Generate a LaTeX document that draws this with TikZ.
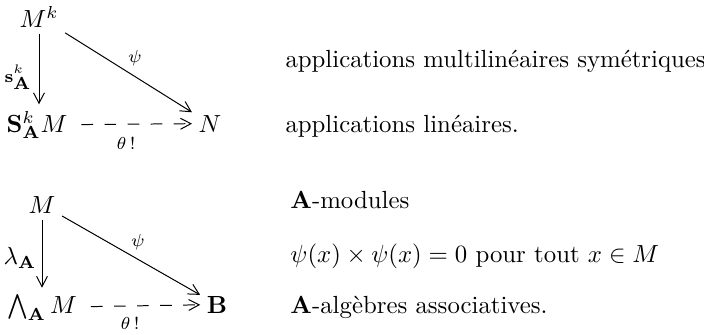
\documentclass[tikz,border=0pt]{standalone}
\usepackage{amsmath,amssymb}
\usetikzlibrary{arrows.meta}
\begin{document}
\begin{tikzpicture}[x=0.4032pt,y=-0.4032pt,
  obj/.style={anchor=base,inner sep=2.5pt},
  txt/.style={anchor=base west,inner sep=0pt},
  arr/.style={-{Straight Barb[length=4.2pt,width=4.4pt]},line width=0.4pt},
  darr/.style={arr,dash pattern=on 4.7pt off 4.6pt,shorten <=3pt},
  lab/.style={inner sep=1pt,font=\scriptsize},
  vlab/.style={inner sep=1pt}]
\useasboundingbox (0,0) rectangle (704,334);
% top diagram
\node[obj] (Mk) at (39,27) {$M^k$};
\node[obj] (S) at (37,132) {$\mathbf{S}^k_{\mathbf{A}}M$};
\node[obj] (N) at (210,132) {$N$};
\draw[arr] (Mk.south) -- (Mk.south |- S.north);
\draw[arr] (Mk) -- (N);
\draw[darr] (S) -- (N);
\node[vlab] (l1) at (18,77) {${\scriptstyle\mathbf{s}}^{\scriptscriptstyle k}_{\mathbf{A}}$};
\node[lab] (l2) at (135,58) {$\psi$};
\node[lab] (l3) at (126,143) {$\theta\,!$};
% bottom diagram
\node[obj] (M) at (42,213) {$M$};
\node[obj] (W) at (42,313) {$\textstyle\bigwedge_{\mathbf{A}}M$};
\node[obj] (B) at (217,313) {$\mathbf{B}$};
\draw[arr] (M.south) -- (M.south |- W.north);
\draw[arr] (M) -- (B);
\draw[darr] (W) -- (B);
\node[vlab] (l4) at (20,258) {$\lambda_{\mathbf{A}}$};
\node[lab] (l5) at (138,242) {$\psi$};
\node[lab] (l6) at (130,323) {$\theta\,!$};
% texts
\node[txt] (t1) at (285,67) {applications multilinéaires symétriques};
\node[txt] (t2) at (285,132) {applications linéaires.};
\node[txt] (t3) at (290,208) {$\mathbf{A}$-modules};
\node[txt] (t4) at (290,262) {$\psi(x)\times\psi(x)=0$ pour tout $x\in M$};
\node[txt] (t5) at (290,313) {$\mathbf{A}$-algèbres associatives.};
\end{tikzpicture}
\end{document}
